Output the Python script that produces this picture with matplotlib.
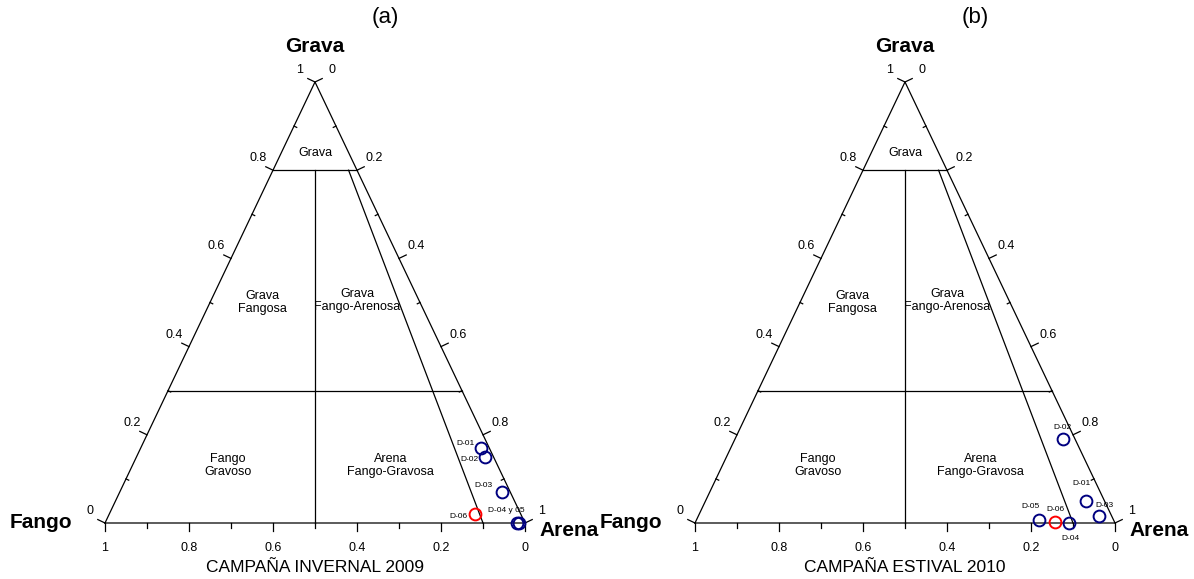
import numpy as np
import matplotlib
matplotlib.use("Agg")
import matplotlib.pyplot as plt

plt.rcParams['font.family'] = ['Liberation Sans', 'DejaVu Sans']

# muestras: fracciones (grava, arena, fango)
samples = ["D-01", "D-02", "D-03", "D-04", "D-05", "D-06"]

grava_2009 = [0.17, 0.15, 0.07, 0.0, 0.0, 0.02]
arena_2009 = [0.81, 0.83, 0.91, 0.98, 0.985, 0.87]
fango_2009 = [0.02, 0.02, 0.02, 0.02, 0.015, 0.11]
labels_2009 = ["D-01", "D-02", "D-03", "D-04 y 05", "", "D-06"]

grava_2010 = [0.05, 0.19, 0.015, 0.0, 0.007, 0.003]
arena_2010 = [0.905, 0.78, 0.955, 0.89, 0.815, 0.855]
fango_2010 = [0.045, 0.03, 0.03, 0.11, 0.178, 0.142]
labels_2010 = ["D-01", "D-02", "D-03", "D-04", "D-05", "D-06"]

point_colors = ["#000080", "#000080", "#000080", "#000080", "#000080", "red"]

# offsets (pixels) and alignment of the sample labels
lab_off_2009 = [(-6, 5, 'right'), (-7, -3, 'right'), (-9, 7, 'right'),
                (-10, 12, 'center'), (0, 0, 'center'), (-7, -2, 'right')]
lab_off_2010 = [(-4, 17, 'center'), (0, 12, 'center'), (5, 11, 'center'),
                (2, -16, 'center'), (-8, 13, 'center'), (1, 12, 'center')]

regions = [("Grava", 0.5, 0.84),
           ("Grava\nFangosa", 0.374, 0.50),
           ("Grava\nFango-Arenosa", 0.60, 0.505),
           ("Fango\nGravoso", 0.293, 0.13),
           ("Arena\nFango-Gravosa", 0.68, 0.13)]

tick_vals = np.round(np.arange(0, 1.01, 0.2), 1)
minor_vals = np.round(np.arange(0.1, 1.0, 0.2), 1)

W, H = 1194, 579
TW, TH = 420.0, 441.0  # triangle size in pixels


def tern(g, s):
    g = np.asarray(g, float)
    s = np.asarray(s, float)
    return s + 0.5 * g, g


def px(dx, dy):
    # pixel vector -> data vector
    return dx / TW, dy / TH


def draw_ternary(ax, grava, arena, labels, offsets, title, xlabel):
    ax.set_xlim(0, 1)
    ax.set_ylim(0, 1)
    ax.axis('off')
    lk = dict(color='black', lw=0.9, clip_on=False)

    # frame
    ax.plot([0, 1, 0.5, 0], [0, 0, 1, 0], **lk)
    # class boundaries
    for gl in (0.8, 0.3):
        x0, y0 = tern(gl, 0)
        x1, y1 = tern(gl, 1 - gl)
        ax.plot([x0, x1], [y0, y1], **lk)
    ax.plot([0.5, 0.5], [0, 0.8], **lk)
    x0, y0 = tern(0.8, 0.2 * 0.9)
    x1, y1 = tern(0, 0.9)
    ax.plot([x0, x1], [y0, y1], **lk)

    # outward normals in pixels
    nl = np.array([-441.0, -210.0]); nl /= np.hypot(*nl)
    nr = np.array([441.0, -210.0]); nr /= np.hypot(*nr)
    L, l = 8, 3

    for v in tick_vals:
        # left side: grava = v
        x, y = tern(v, 0)
        dx, dy = px(nl[0] * L, -nl[1] * L)
        ax.plot([x, x + dx], [y, y + dy], **lk)
        ax.annotate(f"{v:g}", (x, y), xytext=(-15, 12), textcoords='offset pixels',
                    ha='center', va='center', fontsize=9)
        # right side: arena = v
        x, y = tern(1 - v, v)
        dx, dy = px(nr[0] * L, -nr[1] * L)
        ax.plot([x, x + dx], [y, y + dy], **lk)
        ax.annotate(f"{v:g}", (x, y), xytext=(17, 12), textcoords='offset pixels',
                    ha='center', va='center', fontsize=9)
        # bottom: fango = v
        x, y = tern(0, 1 - v)
        dx, dy = px(0, -L)
        ax.plot([x, x + dx], [y, y + dy], **lk)
        ax.annotate(f"{v:g}", (x, y), xytext=(0, -25), textcoords='offset pixels',
                    ha='center', va='center', fontsize=9)

    for v in minor_vals:
        x, y = tern(v, 0)
        dx, dy = px(-nl[0] * l, nl[1] * l)
        ax.plot([x, x + dx], [y, y + dy], **lk)
        x, y = tern(1 - v, v)
        dx, dy = px(-nr[0] * l, nr[1] * l)
        ax.plot([x, x + dx], [y, y + dy], **lk)
        x, y = tern(0, 1 - v)
        dx, dy = px(0, -5)
        ax.plot([x, x + dx], [y, y + dy], **lk)

    for txt, x, y in regions:
        ax.text(x, y, txt, ha='center', va='center', fontsize=9, linespacing=1.1)

    ax.annotate("Grava", (0.5, 1), xytext=(0, 36), textcoords='offset pixels',
                ha='center', va='center', fontsize=15, fontweight='bold')
    ax.annotate("Fango", (0, 0), xytext=(-33, 0), textcoords='offset pixels',
                ha='right', va='center', fontsize=15, fontweight='bold')
    ax.annotate("Arena", (1, 0), xytext=(14, -7), textcoords='offset pixels',
                ha='left', va='center', fontsize=15, fontweight='bold')
    ax.annotate(title, (0.5, 1), xytext=(70, 64), textcoords='offset pixels',
                ha='center', va='center', fontsize=16)
    ax.annotate(xlabel, (0.5, 0), xytext=(0, -45), textcoords='offset pixels',
                ha='center', va='center', fontsize=12.5)

    xs, ys = tern(grava, arena)
    for x, y, c, lab, (ox, oy, ha) in zip(xs, ys, point_colors, labels, offsets):
        ax.plot(x, y, 'o', mfc='none', mec=c, mew=1.4, ms=8.5, clip_on=False)
        if lab:
            ax.annotate(lab, (x, y), xytext=(ox, oy), textcoords='offset pixels',
                        ha=ha, va='center', fontsize=6)


fig = plt.figure(figsize=(W / 100, H / 100), dpi=100)
bottom = (H - 523) / H
ax1 = fig.add_axes([105 / W, bottom, TW / W, TH / H])
ax2 = fig.add_axes([695 / W, bottom, TW / W, TH / H])

draw_ternary(ax1, grava_2009, arena_2009, labels_2009, lab_off_2009,
             "(a)", "CAMPAÑA INVERNAL 2009")
draw_ternary(ax2, grava_2010, arena_2010, labels_2010, lab_off_2010,
             "(b)", "CAMPAÑA ESTIVAL 2010")

fig.savefig("out.png", dpi=100)
